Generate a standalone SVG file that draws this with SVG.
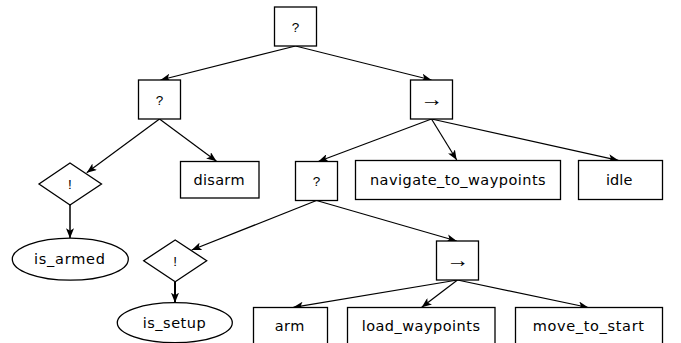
<svg xmlns="http://www.w3.org/2000/svg" width="681" height="343" viewBox="0 0 681 343">
<style>
.n{fill:#fff;stroke:#000;stroke-width:1.3}
.t{font-family:"DejaVu Sans","Open Sans",sans-serif;font-size:14.5px;fill:#000;text-anchor:middle;dominant-baseline:central}
.q{font-family:"Liberation Sans",Arial,sans-serif;font-size:13.5px;fill:#000;text-anchor:middle;dominant-baseline:central}
.r{font-family:"Liberation Sans",Arial,sans-serif;font-size:20px;fill:#000;text-anchor:middle;dominant-baseline:central}
.e{fill:none;stroke:#000;stroke-width:1.2}
</style>
<defs>
<marker id="a" viewBox="0 0 10 8" refX="10" refY="4" markerWidth="10" markerHeight="8" markerUnits="userSpaceOnUse" orient="auto">
<path d="M0,0 L10,4 L0,8 L2.5,4 Z" fill="#000"/>
</marker>
</defs>
<g id="connectors">
<line class="e" x1="295.5" y1="46" x2="160.5" y2="80" marker-end="url(#a)"/>
<line class="e" x1="295.5" y1="46" x2="431.5" y2="80" marker-end="url(#a)"/>
<line class="e" x1="159.5" y1="119" x2="86.7" y2="172.7" marker-end="url(#a)"/>
<line class="e" x1="159.5" y1="119" x2="216.5" y2="161.3" marker-end="url(#a)"/>
<line class="e" x1="70" y1="205" x2="70" y2="238.3" marker-end="url(#a)" style="stroke-width:1.5"/>
<line class="e" x1="431.5" y1="119" x2="318.3" y2="161.5" marker-end="url(#a)"/>
<line class="e" x1="431.5" y1="119" x2="456.7" y2="160" marker-end="url(#a)"/>
<line class="e" x1="431.5" y1="119" x2="618.3" y2="160.3" marker-end="url(#a)"/>
<line class="e" x1="316.5" y1="200.5" x2="191.7" y2="250" marker-end="url(#a)"/>
<line class="e" x1="316.5" y1="200.5" x2="456.7" y2="241" marker-end="url(#a)"/>
<line class="e" x1="175" y1="282" x2="175" y2="302.7" marker-end="url(#a)" style="stroke-width:2"/>
<line class="e" x1="457.5" y1="280" x2="293.3" y2="307.3" marker-end="url(#a)"/>
<line class="e" x1="457.5" y1="280" x2="421.7" y2="307.3" marker-end="url(#a)"/>
<line class="e" x1="457.5" y1="280" x2="588.3" y2="307.5" marker-end="url(#a)"/>
</g>
<g id="root"><rect class="n" x="274.5" y="7" width="42" height="39"/><text class="q" x="295.5" y="27">?</text></g>
<g id="sel1"><rect class="n" x="138.5" y="80" width="42" height="39"/><text class="q" x="159.5" y="100">?</text></g>
<g id="seq1"><rect class="n" x="410.5" y="80" width="42" height="39"/><text class="r" x="431.7" y="99" textLength="23" lengthAdjust="spacingAndGlyphs">→</text></g>
<g id="not1"><polygon class="n" points="70,163 101.5,184 70,205 39,184"/><text class="q" x="70" y="184">!</text></g>
<g id="disarm"><rect class="n" x="180.5" y="161.5" width="78.5" height="36.5"/><text class="t" x="219" y="179.5" textLength="51">disarm</text></g>
<g id="is_armed"><ellipse class="n" cx="70.3" cy="259.2" rx="58" ry="21"/><text class="t" x="69.5" y="259" textLength="71">is_armed</text></g>
<g id="sel2"><rect class="n" x="295.5" y="161.5" width="42" height="39"/><text class="q" x="316.5" y="181">?</text></g>
<g id="navigate"><rect class="n" x="355.5" y="160.5" width="205" height="39"/><text class="t" x="457.8" y="180" textLength="175.7">navigate_to_waypoints</text></g>
<g id="idle"><rect class="n" x="578.5" y="160.5" width="84" height="39"/><text class="t" x="619.2" y="180" textLength="26.3">idle</text></g>
<g id="not2"><polygon class="n" points="175.2,240 206.7,260.7 175.2,281.7 143.7,260.7"/><text class="q" x="175.2" y="261">!</text></g>
<g id="is_setup"><ellipse class="n" cx="174.8" cy="322.7" rx="57.5" ry="20"/><text class="t" x="174.2" y="323" textLength="63">is_setup</text></g>
<g id="seq2"><rect class="n" x="436.5" y="241" width="42" height="39"/><text class="r" x="457.7" y="260" textLength="23" lengthAdjust="spacingAndGlyphs">→</text></g>
<g id="arm"><rect class="n" x="253.5" y="307.5" width="74" height="40"/><text class="t" x="289.5" y="326" textLength="29.7">arm</text></g>
<g id="load_waypoints"><rect class="n" x="347.5" y="307.5" width="147.5" height="40"/><text class="t" x="420.8" y="326" textLength="118.3">load_waypoints</text></g>
<g id="move_to_start"><rect class="n" x="515.5" y="307.5" width="147" height="40"/><text class="t" x="588.3" y="326" textLength="111.3">move_to_start</text></g>
</svg>
